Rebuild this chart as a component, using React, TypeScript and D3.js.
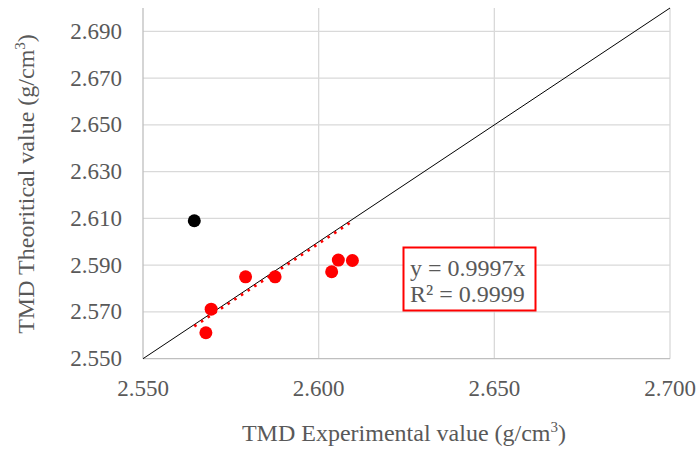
import React from "react";
import * as d3 from "d3";

// Measured TMD values (g/cm³)
const redExperimental = [2.5679, 2.5694, 2.5792, 2.5876, 2.6037, 2.6056, 2.6096];
const redTheoretical = [2.5611, 2.5712, 2.585, 2.585, 2.5872, 2.5922, 2.592];
const blackExperimental = [2.5646];
const blackTheoretical = [2.609];

const xTicks = [2.55, 2.6, 2.65, 2.7];
const yTicks = [2.55, 2.57, 2.59, 2.61, 2.63, 2.65, 2.67, 2.69];

const trendSlope = 0.9997;
const trendStart = 2.5646;
const trendEnd = 2.6096;
const equationLines = ["y = 0.9997x", "R² = 0.9999"];

const W = 697;
const H = 450;
const left = 143;
const right = 670;
const top = 8;
const bottom = 358.7;

const TEXT = "#595959";
const FONT = "'Liberation Serif', 'Times New Roman', serif";

export default function App() {
  const x = d3.scaleLinear().domain([2.55, 2.7]).range([left, right]);
  const y = d3.scaleLinear().domain([2.55, 2.7]).range([bottom, top]);
  const line = d3
    .line<[number, number]>()
    .x((d) => x(d[0]))
    .y((d) => y(d[1]));

  const identity: [number, number][] = [
    [2.55, 2.55],
    [2.7, 2.7],
  ];
  const trend: [number, number][] = [
    [trendStart, trendSlope * trendStart],
    [trendEnd, trendSlope * trendEnd],
  ];

  return (
    <svg
      width={W}
      height={H}
      style={{ position: "absolute", left: 0, top: 0, background: "#fff" }}
      fontFamily={FONT}
    >
      {/* horizontal gridlines */}
      {yTicks
        .filter((t) => t > 2.55)
        .map((t) => (
          <line key={"gy" + t} x1={left} x2={right} y1={y(t)} y2={y(t)} stroke="#d9d9d9" strokeWidth={1.3} />
        ))}
      {/* vertical gridlines */}
      {xTicks
        .filter((t) => t > 2.55)
        .map((t) => (
          <line key={"gx" + t} x1={x(t)} x2={x(t)} y1={top} y2={bottom} stroke="#d9d9d9" strokeWidth={1.3} />
        ))}
      {/* axes */}
      <line x1={left} x2={left} y1={top} y2={bottom} stroke="#bfbfbf" strokeWidth={1.3} />
      <line x1={left} x2={right} y1={bottom} y2={bottom} stroke="#bfbfbf" strokeWidth={1.3} />

      {/* y = x reference */}
      <path d={line(identity) || ""} stroke="#000" strokeWidth={1} fill="none" />

      {/* points */}
      {blackExperimental.map((v, i) => (
        <circle key={"b" + i} cx={x(v)} cy={y(blackTheoretical[i])} r={6.5} fill="#000" />
      ))}
      {redExperimental.map((v, i) => (
        <circle key={"r" + i} cx={x(v)} cy={y(redTheoretical[i])} r={6.5} fill="#ff0000" />
      ))}

      {/* linear trendline */}
      <path
        d={line(trend) || ""}
        stroke="#ff0000"
        strokeWidth={2.6}
        strokeDasharray="2.6 5.4"
        fill="none"
      />

      {/* y tick labels */}
      {yTicks.map((t) => (
        <text key={"ty" + t} x={122} y={y(t) + 7.5} textAnchor="end" fontSize={23} fill={TEXT}>
          {t.toFixed(3)}
        </text>
      ))}
      {/* x tick labels */}
      {xTicks.map((t) => (
        <text key={"tx" + t} x={x(t)} y={396} textAnchor="middle" fontSize={23} fill={TEXT}>
          {t.toFixed(3)}
        </text>
      ))}

      {/* axis titles */}
      <text x={404} y={441} textAnchor="middle" fontSize={24} fill={TEXT}>
        TMD Experimental value (g/cm
        <tspan fontSize={15} dy={-9}>3</tspan>
        <tspan dy={9}>)</tspan>
      </text>
      <text
        transform={`translate(33.5, 184) rotate(-90)`}
        textAnchor="middle"
        fontSize={24}
        fill={TEXT}
      >
        TMD Theoritical value (g/cm
        <tspan fontSize={15} dy={-9}>3</tspan>
        <tspan dy={9}>)</tspan>
      </text>

      {/* equation box */}
      <rect x={403.5} y={247.5} width={132} height={63} fill="#fff" stroke="#ff0000" strokeWidth={2} />
      {equationLines.map((s, i) => (
        <text key={s} x={410} y={276 + i * 26} fontSize={24} fill={TEXT}>
          {s}
        </text>
      ))}
    </svg>
  );
}
